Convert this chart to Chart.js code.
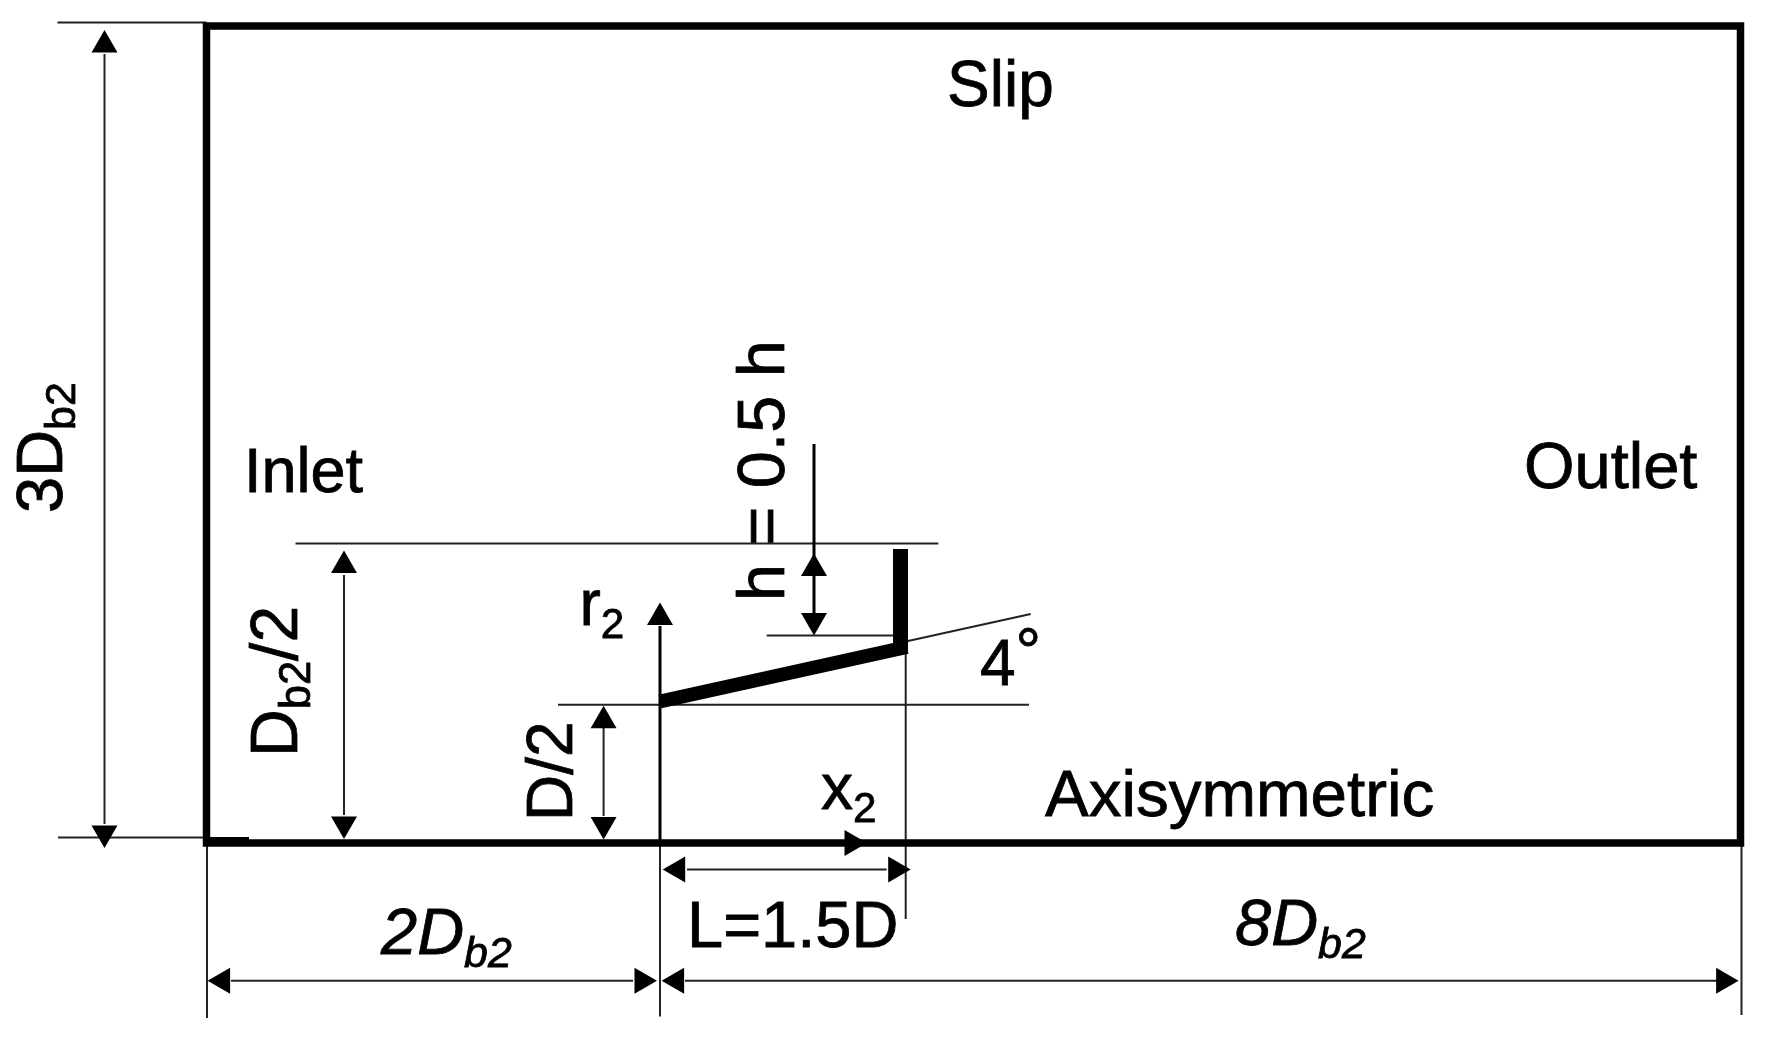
<!DOCTYPE html>
<html>
<head>
<meta charset="utf-8">
<title>Computational domain</title>
<script src="https://cdn.jsdelivr.net/npm/chart.js@4"></script>
<style>
    html, body { margin: 0; padding: 0; background: #fff; }
    canvas { display: block; filter: blur(0.6px); }
</style>
</head>
<body>
<canvas id="myChart" width="1773" height="1064"></canvas>
<script>
// drawing units, origin at the x2 / r2 axes crossing
var frameX = [-453.5, 1080.5, 1080.5, -453.5, -453.5];
var frameY = [0, 0, 817, 817, 0];
var coneX = [0, 247];
var coneY = [141.5, 196];
var baseX = [240.5, 240.5];
var baseY = [294, 192];

// thin lines: x1, y1, x2, y2
var topExtension = [-602.6, 820.6, -453.5, 820.6];
var bottomExtension = [-602, 5.6, -453.5, 5.6];
var cornerStub = [-453.5, 4.6, -411, 4.6];
var heightShaft = [-555.5, 789, -555.5, 19];
var radiusShaft = [-316, 268, -316, 28];
var innerShaft = [-56.4, 115, -56.4, 27];
var rAxis = [0, 217, 0, 0];
var hShaft = [154, 399, 154, 230];
var lengthShaft = [27, -26.6, 226.7, -26.6];
var upstreamShaft = [-429, -137.8, -27, -137.8];
var downstreamShaft = [25, -137.8, 1058, -137.8];
var radiusExtension = [-364.5, 299.4, 278.3, 299.4];
var innerExtension = [-102, 138.3, 369, 138.3];
var hExtension = [106.7, 207.4, 233, 207.4];
var slopeExtension = [248, 202, 370.7, 229];
var leftDrop = [-453, 0, -453, -175];
var originDrop = [0, 0, 0, -173.5];
var baseDrop = [245.7, 190, 245.7, -76];
var rightDrop = [1081.5, 0, 1081.5, -172];

var thinLines = [topExtension, bottomExtension, heightShaft, radiusShaft, innerShaft, lengthShaft,
    upstreamShaft, downstreamShaft, radiusExtension, innerExtension, hExtension, slopeExtension,
    leftDrop, originDrop, baseDrop, rightDrop];
var mediumLines = [cornerStub, rAxis, hShaft];

// arrow tips and the way they point (degrees, 0 = up)
var arrowX = [-555.5, -555.5, -316, -316, -56.4, -56.4, 0, 207, 154, 154, 2.7, 250.7, -452.4, -3, 1.6, 1078.6];
var arrowY = [813, -5, 292.5, 4, 137.2, 3.6, 240.4, 0, 289.5, 207.4, -26.6, -26.6, -137.8, -137.8, -137.8, -137.8];
var arrowDir = [0, 180, 0, 180, 0, 180, 0, 90, 0, 180, 270, 90, 270, 90, 270, 90];

var labelText = ['Slip', 'Inlet', 'Outlet', 'Axisymmetric', '3D', 'D', 'D/2', 'r', 'x', 'h = 0.5 h', '4', 'L=1.5D', '2D', '8D'];
var labelSub = ['', '', '', '', 'b2', 'b2', '', '2', '2', '', '', '', 'b2', 'b2'];
var labelTail = ['', '', '', '', '', '/2', '', '', '', '', '°', '', '', ''];
var labelX = [287, -416, 864, 385, -597.6, -363, -88, -80.5, 161, 124, 320, 27, -279, 575];
var labelY = [737, 351.3, 355, 27, 330, 86, 22, 218, 34, 242, 158.5, -103.5, -111, -102];
var labelSize = [64, 63, 65, 65.5, 65, 66, 64, 64, 64, 66.5, 64, 65, 65, 65];
var labelTurned = [false, false, false, false, true, true, true, false, false, true, false, false, false, false];
var labelItalic = [false, false, false, false, false, false, false, false, false, false, false, false, true, true];

var arrowSize = 15;
var fontName = '"Liberation Sans", Arial, sans-serif';

function lineSet(xs, ys, width, color) {
    var pts = xs.map(function (x, i) { return {x: x, y: ys[i]}; });
    return {
        data: pts, showLine: true, fill: false, tension: 0,
        borderColor: color, borderWidth: width, pointRadius: 0,
        borderJoinStyle: 'miter', borderCapStyle: 'butt'
    };
}

function pairSet(p, width, color) {
    return lineSet([p[0], p[2]], [p[1], p[3]], width, color);
}

var datasets = [];

datasets.push({
    data: arrowX.map(function (x, i) {
        var rad = arrowDir[i] * Math.PI / 180;
        return {x: x - Math.sin(rad) * arrowSize, y: arrowY[i] - Math.cos(rad) * arrowSize};
    }),
    showLine: false,
    pointStyle: 'triangle',
    pointRadius: arrowSize,
    pointRotation: arrowDir,
    pointBackgroundColor: '#000',
    pointBorderWidth: 0
});

var frameSet = lineSet(frameX, frameY, 7.5, '#000');
frameSet.borderCapStyle = 'square';
datasets.push(frameSet);
datasets.push(lineSet(coneX, coneY, 14, '#000'));
datasets.push(lineSet(baseX, baseY, 15, '#000'));
mediumLines.forEach(function (p) { datasets.push(pairSet(p, 3, '#000')); });
thinLines.forEach(function (p) { datasets.push(pairSet(p, 2, '#222')); });

function putText(ctx, text, x, y) {
    ctx.fillText(text, x, y);
    ctx.strokeText(text, x, y);
}

// text goes on top, placed through the same scales as the lines
var labelPlugin = {
    id: 'labels',
    afterDraw: function (chart) {
        var ctx = chart.ctx;
        labelText.forEach(function (text, i) {
            var style = labelItalic[i] ? 'italic ' : '';
            var main = style + labelSize[i] + 'px ' + fontName;
            var small = style + (labelSize[i] * 0.66) + 'px ' + fontName;
            ctx.save();
            ctx.fillStyle = '#000';
            ctx.strokeStyle = '#000';
            ctx.lineWidth = 0.8;
            ctx.textBaseline = 'alphabetic';
            ctx.translate(chart.scales.x.getPixelForValue(labelX[i]), chart.scales.y.getPixelForValue(labelY[i]));
            if (labelTurned[i]) ctx.rotate(-Math.PI / 2);
            ctx.font = main;
            putText(ctx, text, 0, 0);
            var pos = ctx.measureText(text).width;
            if (labelSub[i]) {
                ctx.font = small;
                putText(ctx, labelSub[i], pos, 13);
                pos += ctx.measureText(labelSub[i]).width;
            }
            if (labelTail[i]) {
                ctx.font = main;
                putText(ctx, labelTail[i], pos, labelTail[i] === '°' ? -12 : 0);
            }
            ctx.restore();
        });
    }
};

var ctx = document.getElementById('myChart').getContext('2d');
var chart = new Chart(ctx, {
    type: 'scatter',
    data: {datasets: datasets},
    options: {
        responsive: false,
        animation: false,
        layout: {padding: 0, autoPadding: false},
        plugins: {legend: {display: false}, tooltip: {enabled: false}},
        scales: {
            x: {type: 'linear', display: false, min: -660, max: 1113},
            y: {type: 'linear', display: false, min: -221, max: 843}
        }
    },
    plugins: [labelPlugin]
});
</script>
</body>
</html>
